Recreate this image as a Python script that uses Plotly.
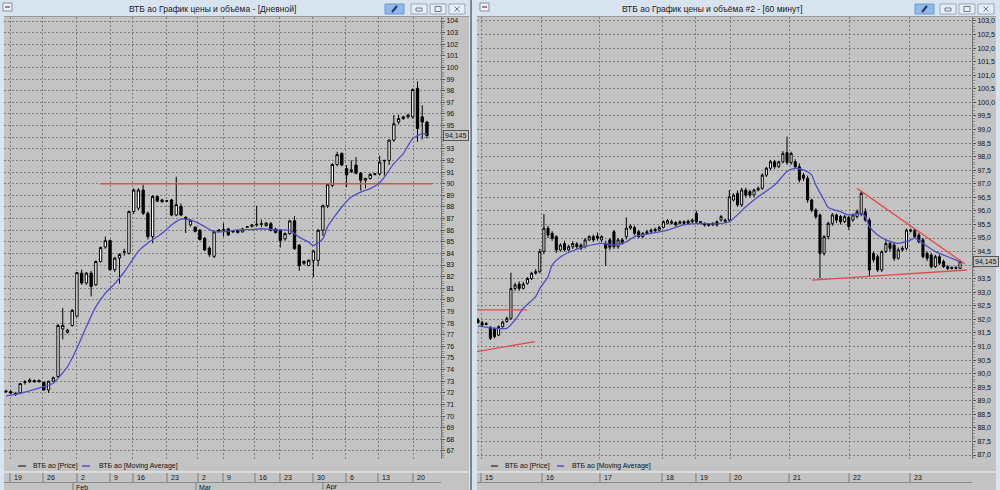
import plotly.graph_objects as go

W, H = 1000, 490
def X(px): return px / W
def Y(py): return 1 - py / H

FONT = "Liberation Sans, Arial, sans-serif"

# ---------------- Left chart: daily ----------------
d_open = [72.1, 72.1, 71.95, 72.0, 72.9, 72.95, 73.05, 72.95, 72.9, 72.25,
          73.0, 73.4, 77.5, 77.2, 77.8, 78.6, 82.3, 81.45, 82.3, 81.3,
          83.3, 84.55, 85.1, 82.6, 83.6, 84.1, 84.0, 87.6, 87.9, 89.45,
          87.45, 85.45, 88.9, 88.45, 88.5, 88.6, 87.3, 88.05, 87.1, 86.45,
          86.25, 86.0, 85.3, 84.45, 83.75, 85.9, 86.0, 86.1, 85.85, 85.95,
          85.85, 86.25, 86.35, 86.45, 86.5, 86.4, 86.55, 86.1, 86.0, 85.25,
          85.7, 86.8, 84.7, 83.3, 82.95, 83.4, 83.4, 86.0, 88.1, 89.85,
          91.65, 92.6, 91.3, 91.05, 91.6, 90.9, 90.3, 90.45, 90.8, 90.85,
          91.95, 92.0, 93.75, 95.3, 95.6, 95.75, 95.75, 98.2, 95.75, 95.3]
d_high = [72.25, 72.2, 72.05, 72.85, 73.1, 73.25, 73.15, 73.15, 72.95, 73.05,
          73.4, 77.9, 79.3, 77.5, 79.2, 82.4, 82.6, 82.4, 82.5, 83.4,
          84.6, 85.45, 85.2, 83.7, 84.0, 84.4, 87.7, 89.6, 89.6, 89.9,
          87.6, 89.0, 89.0, 88.7, 88.55, 88.7, 90.6, 88.3, 87.2, 86.95,
          86.35, 86.1, 85.4, 84.6, 86.0, 86.1, 86.6, 86.2, 86.0, 86.05,
          86.2, 86.35, 86.5, 88.1, 86.9, 86.7, 86.7, 86.2, 86.1, 85.8,
          86.9, 87.2, 84.8, 83.4, 83.5, 84.3, 86.1, 88.2, 90.0, 91.75,
          92.75, 92.7, 91.6, 92.0, 92.3, 91.0, 90.5, 90.9, 90.9, 92.4,
          92.05, 93.8, 95.9, 95.95, 95.85, 96.0, 98.2, 98.8, 96.75, 95.4]
d_low = [72.0, 71.9, 71.75, 71.9, 72.7, 72.85, 72.9, 72.9, 72.2, 72.0,
         72.9, 73.3, 76.6, 77.1, 77.7, 78.5, 81.3, 81.3, 80.3, 81.2,
         83.2, 84.4, 82.5, 82.4, 81.4, 83.8, 83.9, 87.4, 87.7, 87.3,
         85.2, 84.87, 88.4, 88.35, 88.45, 87.2, 87.2, 87.2, 85.75, 86.3,
         85.8, 85.1, 84.2, 83.7, 83.6, 85.8, 85.45, 85.5, 85.75, 85.7,
         85.8, 86.2, 86.2, 86.3, 86.25, 86.3, 85.9, 85.7, 84.5, 85.1,
         85.6, 84.3, 82.5, 83.0, 82.9, 81.95, 82.9, 85.5, 87.9, 89.7,
         91.5, 91.5, 89.7, 90.9, 90.8, 89.4, 89.6, 90.35, 90.7, 90.7,
         90.7, 91.6, 93.6, 95.1, 95.5, 95.6, 95.6, 93.6, 93.8, 93.9]
d_close = [72.15, 72.0, 71.85, 72.8, 72.95, 73.1, 72.95, 73.05, 72.25, 73.0,
           73.3, 77.8, 77.8, 77.4, 79.1, 82.35, 81.45, 82.3, 81.15, 83.3,
           84.5, 85.1, 82.6, 83.6, 83.9, 84.15, 87.6, 89.45, 89.45, 87.45,
           85.45, 88.9, 88.5, 88.6, 88.52, 87.3, 88.2, 87.3, 86.95, 86.85,
           85.9, 85.2, 84.3, 83.9, 85.85, 86.0, 86.05, 85.6, 85.9, 85.8,
           86.1, 86.3, 86.45, 86.5, 86.55, 86.6, 86.0, 85.8, 85.1, 85.7,
           86.8, 84.4, 82.95, 83.15, 83.4, 84.2, 86.0, 88.1, 89.95, 91.65,
           92.5, 91.6, 90.75, 91.2, 90.9, 90.3, 90.45, 90.8, 90.85, 91.85,
           92.0, 93.75, 95.15, 95.6, 95.75, 95.9, 98.1, 94.75, 95.3, 94.145]
d_ma_idx = [0, 3, 8, 10, 11, 13, 15, 17, 19, 21, 23, 25, 27, 28, 30, 33, 35, 37, 38,
            40, 42, 44, 46, 49, 52, 54, 57, 60, 62, 64, 65, 67, 68, 71, 73, 75, 77,
            79, 80, 82, 84, 86, 88, 89]
d_ma_val = [71.73, 71.96, 72.53, 72.82, 73.25, 74.25, 75.83, 77.7, 79.42, 80.57,
            81.4, 82.4, 83.6, 84.2, 84.9, 85.73, 86.45, 86.94, 86.94, 86.73, 86.3,
            85.87, 85.87, 86.02, 86.05, 86.12, 86.03, 85.98, 85.4, 84.97, 84.68,
            85.26, 86.3, 87.99, 88.85, 89.28, 89.57, 90.06, 90.57, 91.72, 92.59,
            93.88, 94.31, 94.25]
d_ytick_lbl = ["67", "68", "69", "70", "71", "72", "73", "74", "75", "76", "77", "78",
               "79", "80", "81", "82", "83", "84", "85", "86", "87", "88", "89", "90",
               "91", "92", "93", "94", "95", "96", "97", "98", "99", "100", "101",
               "102", "103", "104"]
d_tick_idx = [0.85, 7.82, 15.01, 21.99, 26.85, 34.04, 40.59, 45.88, 52.64, 57.93,
              64.90, 71.88, 78.65, 86.05]
d_tick_lbl = ["19", "26", "2", "9", "16", "23", "2", "9", "16", "23", "30", "6", "13", "20"]
d_month_idx = [14.16, 40.17, 67.02]
d_month_lbl = ["Feb", "Mar", "Apr"]
d_level_x = [19.9, 90.1]
d_level_y = [90.0, 90.0]
d_last = 94.145

# ---------------- Right chart: 60 minutes ----------------
h_open = [91.98, 91.88, 91.84, 91.71, 91.67, 91.42, 91.73, 91.92, 92.04, 93.14,
          93.3, 93.14, 93.33, 93.51, 93.7, 93.76, 94.5, 95.36, 95.17, 95.05,
          94.56, 94.8, 94.56, 94.68, 94.78, 94.74, 94.68, 94.93, 95.05, 95.07,
          94.93, 94.8, 94.93, 95.23, 94.68, 94.93, 95.05, 95.36, 95.39, 95.23,
          95.05, 95.23, 95.23, 95.32, 95.29, 95.39, 95.54, 95.54, 95.57, 95.54,
          95.6, 95.62, 95.6, 95.91, 95.56, 95.54, 95.51, 95.48, 95.6, 95.66,
          95.6, 95.66, 96.4, 96.65, 96.22, 96.77, 96.71, 96.58, 96.77, 96.83,
          97.32, 97.57, 97.81, 97.63, 97.81, 98.15, 97.78, 97.81, 97.63, 97.32,
          97.2, 96.4, 96.03, 95.85, 94.43, 95.05, 95.54, 95.85, 95.79, 95.6,
          95.76, 95.66, 95.79, 95.88, 95.97, 95.66, 94.43, 94.31, 93.82, 94.5,
          94.8, 94.74, 94.25, 94.56, 94.62, 95.25, 95.29, 95.11, 94.93, 94.43,
          94.37, 93.94, 94.31, 94.13, 93.94, 93.91, 93.91, 93.88]
h_high = [92.05, 91.95, 91.9, 91.75, 91.7, 91.78, 91.95, 92.1, 93.72, 93.35,
          93.4, 93.38, 93.56, 93.75, 93.85, 94.6, 95.88, 95.45, 95.25, 95.1,
          94.8, 94.9, 94.75, 94.88, 94.85, 94.8, 95.0, 95.1, 95.12, 95.2,
          95.1, 94.9, 95.0, 95.3, 95.0, 95.0, 95.76, 95.5, 95.45, 95.3,
          95.22, 95.3, 95.35, 95.38, 95.45, 95.65, 95.7, 95.68, 95.62, 95.65,
          95.65, 95.68, 95.72, 96.0, 95.62, 95.58, 95.55, 95.58, 95.65, 95.85,
          95.72, 96.77, 96.65, 96.75, 96.85, 96.85, 96.78, 96.82, 96.9, 97.38,
          97.62, 97.88, 97.88, 97.85, 98.2, 98.74, 98.18, 97.9, 97.75, 97.4,
          97.3, 96.45, 96.1, 95.9, 95.1, 95.6, 95.92, 95.9, 95.85, 95.85,
          95.82, 95.9, 96.05, 96.71, 96.1, 95.75, 94.5, 94.4, 94.55, 94.95,
          94.9, 94.85, 94.65, 94.7, 95.35, 95.35, 95.35, 95.2, 95.0, 94.5,
          94.45, 94.38, 94.38, 94.2, 94.0, 93.95, 93.96, 94.2]
h_low = [91.85, 91.72, 91.78, 91.24, 91.3, 91.38, 91.7, 91.88, 91.98, 93.05,
         93.05, 93.1, 93.28, 93.45, 93.65, 93.7, 94.4, 95.0, 94.9, 94.45,
         94.5, 94.5, 94.5, 94.6, 94.6, 94.55, 94.62, 94.88, 94.85, 94.9,
         94.85, 93.97, 94.55, 94.6, 94.6, 94.75, 94.95, 95.3, 95.1, 95.0,
         95.0, 95.12, 95.18, 95.2, 95.25, 95.35, 95.5, 95.5, 95.42, 95.5,
         95.48, 95.5, 95.55, 95.55, 95.5, 95.42, 95.42, 95.44, 95.42, 95.6,
         95.55, 95.6, 96.35, 96.15, 96.15, 96.5, 96.5, 96.52, 96.72, 96.78,
         97.25, 97.5, 97.55, 97.58, 97.75, 97.7, 97.7, 97.55, 97.05, 97.1,
         96.3, 95.95, 95.7, 93.51, 94.35, 94.95, 95.45, 95.55, 95.5, 95.55,
         95.3, 95.6, 95.72, 95.8, 95.6, 93.57, 94.1, 93.75, 93.75, 94.45,
         94.5, 94.15, 94.2, 94.5, 94.55, 95.2, 95.0, 94.8, 94.25, 94.15,
         93.88, 93.9, 94.0, 93.9, 93.82, 93.84, 93.84, 93.85]
h_close = [91.88, 91.79, 91.82, 91.3, 91.36, 91.73, 91.9, 92.04, 93.14, 93.27,
           93.14, 93.3, 93.51, 93.7, 93.76, 94.5, 95.36, 95.11, 94.99, 94.56,
           94.74, 94.56, 94.68, 94.8, 94.68, 94.62, 94.93, 95.05, 94.93, 94.99,
           95.05, 94.62, 94.66, 94.68, 94.93, 94.8, 95.36, 95.44, 95.17, 95.05,
           95.17, 95.17, 95.29, 95.27, 95.39, 95.6, 95.64, 95.6, 95.48, 95.6,
           95.54, 95.54, 95.66, 95.6, 95.6, 95.48, 95.47, 95.54, 95.48, 95.79,
           95.66, 96.52, 96.58, 96.22, 96.77, 96.58, 96.58, 96.77, 96.83, 97.32,
           97.57, 97.81, 97.63, 97.81, 98.12, 97.78, 98.12, 97.63, 97.14, 97.2,
           96.4, 96.03, 95.79, 94.43, 95.05, 95.54, 95.85, 95.66, 95.6, 95.79,
           95.42, 95.85, 95.97, 96.65, 95.66, 93.82, 94.19, 93.82, 94.5, 94.8,
           94.62, 94.25, 94.56, 94.62, 95.29, 95.29, 95.05, 94.86, 94.31, 94.25,
           93.94, 94.31, 94.07, 93.94, 93.88, 93.88, 93.88, 94.145]
h_ma_idx = [0, 4, 7, 9, 11, 14, 15, 17, 18, 20, 23, 26, 30, 33, 36, 38, 42, 46, 50,
            54, 58, 61, 65, 68, 72, 75, 77, 79, 81, 82, 84, 85, 88, 90, 93, 94, 95,
            97, 99, 102, 105, 106, 108, 111, 115, 117]
h_ma_val = [91.76, 91.67, 91.67, 91.98, 92.41, 92.84, 93.14, 93.57, 94.0, 94.3,
            94.53, 94.68, 94.8, 94.74, 94.86, 95.05, 95.17, 95.29, 95.48, 95.54,
            95.52, 95.6, 96.15, 96.52, 96.95, 97.45, 97.57, 97.51, 97.32, 96.95,
            96.4, 96.12, 95.97, 95.85, 95.91, 95.8, 95.42, 95.11, 94.93, 94.8,
            94.93, 95.0, 94.8, 94.5, 94.25, 94.13]
h_tick_idx = [0.73, 15.53, 29.61, 44.66, 52.91, 61.17, 75.49, 90.05, 104.85]
h_tick_lbl = ["15", "16", "17", "18", "19", "20", "21", "22", "23"]
h_ytick_lbl = ["87,0", "87,5", "88,0", "88,5", "89,0", "89,5", "90,0", "90,5",
               "91,0", "91,5", "92,0", "92,5", "93,0", "93,5", "94,0", "94,5",
               "95,0", "95,5", "96,0", "96,5", "97,0", "97,5", "98,0", "98,5",
               "99,0", "99,5", "100,0", "100,5", "101,0", "101,5", "102,0",
               "102,5", "103,0"]
h_res_x, h_res_y = [92.0, 118.2], [96.83, 94.04]
h_sup_x, h_sup_y = [81.1, 118.7], [93.45, 93.82]
h_lvl_x, h_lvl_y = [-0.25, 11.9], [92.35, 92.35]
h_chn_x, h_chn_y = [-0.25, 13.8], [90.81, 91.18]
h_last = 94.145
last_txt = "94,145"

RED = "#e44c4c"
BLUE = "#4f4fc8"
PANEL = "#c3c3c3"
FRAME = "#d8e3f0"
GRID = dict(showgrid=True, gridcolor="#7c7c7c", griddash="2px,2px", gridwidth=1, zeroline=False)


def candles(o, h, l, c, xa, ya):
    return go.Candlestick(
        x=list(range(len(o))), open=o, high=h, low=l, close=c, xaxis=xa, yaxis=ya,
        increasing=dict(line=dict(color="#000000", width=1), fillcolor="#ffffff"),
        decreasing=dict(line=dict(color="#000000", width=1), fillcolor="#000000"),
        whiskerwidth=0, showlegend=False, hoverinfo="skip")


fig = go.Figure()
fig.add_trace(go.Scatter(x=d_level_x, y=d_level_y, mode="lines", line=dict(color=RED, width=1.4),
                         xaxis="x", yaxis="y", showlegend=False, hoverinfo="skip"))
fig.add_trace(candles(d_open, d_high, d_low, d_close, "x", "y"))
fig.add_trace(go.Scatter(x=d_ma_idx, y=d_ma_val, mode="lines", line=dict(color=BLUE, width=1.3, shape="spline", smoothing=0.6),
                         xaxis="x", yaxis="y", showlegend=False, hoverinfo="skip"))

for xs, ys in [(h_lvl_x, h_lvl_y), (h_chn_x, h_chn_y)]:
    fig.add_trace(go.Scatter(x=xs, y=ys, mode="lines", line=dict(color=RED, width=1.3),
                             xaxis="x2", yaxis="y2", showlegend=False, hoverinfo="skip"))
fig.add_trace(candles(h_open, h_high, h_low, h_close, "x2", "y2"))
fig.add_trace(go.Scatter(x=h_ma_idx, y=h_ma_val, mode="lines", line=dict(color=BLUE, width=1.3, shape="spline", smoothing=0.6),
                         xaxis="x2", yaxis="y2", showlegend=False, hoverinfo="skip"))
for xs, ys in [(h_res_x, h_res_y), (h_sup_x, h_sup_y)]:
    fig.add_trace(go.Scatter(x=xs, y=ys, mode="lines", line=dict(color=RED, width=1.3),
                             xaxis="x2", yaxis="y2", showlegend=False, hoverinfo="skip"))

tickfont = dict(family=FONT, size=7, color="#111111")
yax_common = dict(side="right", ticks="outside", ticklen=3, tickcolor="#555555",
                  showline=True, linecolor="#777777", linewidth=1, tickfont=tickfont, **GRID)

# the last-price box covers the nearest tick label, as in the reference
d_ytick_val = [float(s) for s in d_ytick_lbl]
d_ytick_txt = [s if abs(v - d_last) > 0.5 else "" for s, v in zip(d_ytick_lbl, d_ytick_val)]
h_ytick_val = [float(s.replace(",", ".")) for s in h_ytick_lbl]
h_ytick_txt = [s if abs(v - h_last) > 0.2 else "" for s, v in zip(h_ytick_lbl, h_ytick_val)]

fig.update_layout(
    width=W, height=H, margin=dict(l=0, r=0, t=0, b=0),
    paper_bgcolor=FRAME, plot_bgcolor=PANEL, showlegend=False, hovermode=False, dragmode=False,
    xaxis=dict(domain=[X(4), X(441)], range=[-0.42, 91.97], tickmode="array", tickvals=d_tick_idx,
               showticklabels=False, ticks="", rangeslider=dict(visible=False), anchor="y", **GRID),
    yaxis=dict(domain=[Y(459), Y(17)], range=[66.306, 104.344], tickmode="array", tickvals=d_ytick_val,
               ticktext=d_ytick_txt, anchor="x",
               minor=dict(ticks="outside", ticklen=2, dtick=0.2, tickcolor="#888888", showgrid=False),
               **yax_common),
    xaxis2=dict(domain=[X(477), X(972)], range=[-0.24, 119.9], tickmode="array", tickvals=h_tick_idx,
                showticklabels=False, ticks="", rangeslider=dict(visible=False), anchor="y2", **GRID),
    yaxis2=dict(domain=[Y(459), Y(17)], range=[86.853, 103.147], tickmode="array", tickvals=h_ytick_val,
                ticktext=h_ytick_txt, anchor="x2",
                minor=dict(ticks="outside", ticklen=2, dtick=0.1, tickcolor="#888888", showgrid=False),
                **yax_common),
)

shapes = []
ann = []

def prect(x0, y0, x1, y1, fill, line=None, lw=0, layer="below"):
    shapes.append(dict(type="rect", xref="paper", yref="paper", x0=X(x0), x1=X(x1), y0=Y(y1), y1=Y(y0),
                       fillcolor=fill, line=dict(color=line or fill, width=lw), layer=layer))

def pline(x0, y0, x1, y1, color, w=1, layer="above"):
    shapes.append(dict(type="line", xref="paper", yref="paper", x0=X(x0), x1=X(x1), y0=Y(y0), y1=Y(y1),
                       line=dict(color=color, width=w), layer=layer))

def text(x, y, s, size=7, anchor="left", color="#111111"):
    ann.append(dict(x=X(x), y=Y(y), xref="paper", yref="paper", text=s, showarrow=False,
                    xanchor=anchor, yanchor="middle", font=dict(family=FONT, size=size, color=color)))

# panels
prect(4, 16, 469, 490, PANEL)
prect(477, 16, 996, 490, PANEL)
pline(4, 16.5, 469, 16.5, "#9a9a9a", 1, "below")
pline(477, 16.5, 996, 16.5, "#9a9a9a", 1, "below")
prect(470.5, 0, 471.6, 490, "#3a3a3a", layer="above")

# title bars
text(212, 9, "ВТБ ао График цены и объёма - [Дневной]", size=8.5, anchor="center", color="#1a1a1a")
text(712, 9, "ВТБ ао График цены и объёма #2 - [60 минут]", size=8.5, anchor="center", color="#1a1a1a")
for x0 in (3, 480):
    prect(x0, 3, x0 + 9, 11, "#eef3f8", "#7d8fa5", 1, "above")
    prect(x0 + 2, 6, x0 + 7, 8, "#d47070", layer="above")
for bx in (385, 915):
    prect(bx, 4, bx + 19, 14, "#8fbaec", "#6d98cc", 1, "above")
    pline(bx + 7, 12, bx + 12, 6, "#22365a", 2)
for bx in (411, 430, 449, 940, 959, 978):
    prect(bx, 4, bx + 16, 14, "#e6edf5", "#97a8bc", 1, "above")
for bx in (411, 940):
    prect(bx + 5, 8, bx + 11, 11, "#e6edf5", "#6a7a8e", 1, "above")
for bx in (430, 959):
    prect(bx + 5, 6.5, bx + 11, 11.5, "#e6edf5", "#6a7a8e", 1, "above")
for bx in (449, 978):
    pline(bx + 5.5, 6.5, bx + 10.5, 11.5, "#6a7a8e", 1)
    pline(bx + 5.5, 11.5, bx + 10.5, 6.5, "#6a7a8e", 1)

# legends
pline(18, 466, 26, 466, "#222222", 1.2)
text(31, 466, "ВТБ ао [Price]")
pline(82, 466, 90, 466, BLUE, 1.5)
text(97, 466, "ВТБ ао [Moving Average]")
pline(491, 466, 498, 466, "#222222", 1.2)
text(503, 466, "ВТБ ао [Price]")
pline(557, 466, 564, 466, BLUE, 1.5)
text(570, 466, "ВТБ ао [Moving Average]")

# date strips
for x0, x1 in ((4, 468), (477, 995)):
    pline(x0, 472, x1, 472, "#f4f4f4", 1, "below")
pline(4, 482.5, 441, 482.5, "#8a8a8a", 1, "below")
pline(477, 482.5, 972, 482.5, "#8a8a8a", 1, "below")

for xa, idxs, lbls in (("x", d_tick_idx, d_tick_lbl), ("x2", h_tick_idx, h_tick_lbl)):
    for v, s in zip(idxs, lbls):
        shapes.append(dict(type="line", xref=xa, yref="paper", x0=v, x1=v, y0=Y(482), y1=Y(473),
                           line=dict(color="#7a7a7a", width=1)))
        ann.append(dict(x=v, y=Y(477.5), xref=xa, yref="paper", text=s, showarrow=False, xanchor="left",
                        yanchor="middle", xshift=2, font=dict(family=FONT, size=7, color="#111111")))
for v, s in zip(d_month_idx, d_month_lbl):
    shapes.append(dict(type="line", xref="x", yref="paper", x0=v, x1=v, y0=Y(490), y1=Y(483),
                       line=dict(color="#7a7a7a", width=1)))
    ann.append(dict(x=v, y=Y(487), xref="x", yref="paper", text=s, showarrow=False, xanchor="left",
                    yanchor="middle", xshift=1, font=dict(family=FONT, size=7, color="#111111")))

# last price boxes
ann.append(dict(x=X(443), y=d_last, xref="paper", yref="y", text=last_txt, showarrow=False, xanchor="left",
                yanchor="middle", bgcolor=PANEL, bordercolor="#555555", borderwidth=1, borderpad=1,
                font=dict(family=FONT, size=7, color="#111111")))
ann.append(dict(x=X(973), y=h_last, xref="paper", yref="y2", text=last_txt, showarrow=False, xanchor="left",
                yanchor="middle", bgcolor=PANEL, bordercolor="#555555", borderwidth=1, borderpad=1,
                font=dict(family=FONT, size=7, color="#111111")))

fig.update_layout(shapes=shapes, annotations=ann)
fig.write_html("out.html", config={"displayModeBar": False, "staticPlot": True},
               post_script="document.body.style.margin='0px';document.body.style.overflow='hidden';")
